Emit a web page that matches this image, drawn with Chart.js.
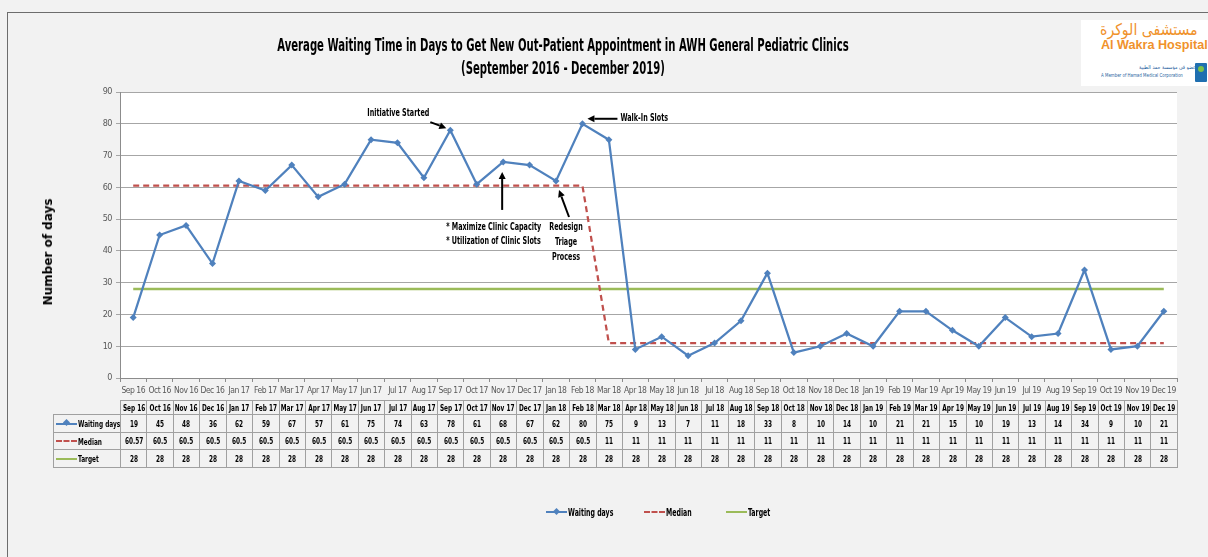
<!DOCTYPE html>
<html>
<head>
<meta charset="utf-8">
<script src="https://cdn.jsdelivr.net/npm/chart.js@4.4.0/dist/chart.umd.min.js"></script>
<style>
    html, body { margin: 0; padding: 0; }
    body {
        width: 1208px; height: 557px; overflow: hidden; position: relative;
        background: #f2f2f2;
        font-family: "Liberation Sans Narrow", "DejaVu Sans Condensed", "Liberation Sans", sans-serif;
    }
    #frame { position: absolute; left: 7px; top: 12px; width: 1300px; height: 700px; border: 1px solid #6d6d6d; }
    #chart { position: absolute; left: 0; top: 0; }
    .title {
        position: absolute; left: 0; width: 1126px; text-align: center; font-weight: bold; font-size: 17px;
        color: #000; white-space: nowrap; transform: scaleX(0.66); transform-origin: center;
    }
    #ytitle {
        position: absolute; left: 48px; top: 252px; transform: translate(-50%, -50%) rotate(-90deg);
        font-family: "DejaVu Sans", sans-serif; font-weight: bold; font-size: 12px; white-space: nowrap;
    }
    #logo { position: absolute; left: 1081px; top: 20px; width: 127px; height: 66px; background: #fff; }
    #logo .ar { position: absolute; left: 19px; top: 0px; font-family: "DejaVu Sans", sans-serif; font-size: 16px; color: #f0922b; white-space: nowrap; transform: scaleX(0.88); transform-origin: 0 0; }
    #logo .en { position: absolute; left: 20px; top: 17px; font-family: "Liberation Sans", sans-serif; font-weight: bold; font-size: 13px; color: #f0922b; white-space: nowrap; transform: scaleX(0.97); transform-origin: 0 0; }
    #logo .small { position: absolute; white-space: nowrap; color: #1f5fa0; font-size: 8px; transform-origin: 0 0; }
    #logo .icon { position: absolute; left: 114px; top: 43px; width: 12px; height: 19px; background: #1f6fb0; border-radius: 1px; }
    #logo .icon i { position: absolute; left: 3px; top: 3px; width: 6px; height: 6px; background: #7bc24a; border-radius: 50%; }
    #datatable {
        position: absolute; border-collapse: collapse; table-layout: fixed;
        font-size: 9.5px; font-weight: bold; color: #000;
    }
    #datatable td { border: 1px solid #a0a0a0; text-align: center; padding: 0; white-space: nowrap; overflow: hidden; }
    #datatable td.blank { border: none; border-bottom: 1px solid #a0a0a0; }
    #datatable td.lab { text-align: left; padding-left: 2px; }
    .c { display: block; width: 300%; margin-left: -100%; text-align: center; transform: scaleX(0.68); transform-origin: center; }
    .lt { display: inline-block; transform: scaleX(0.68); transform-origin: 0 50%; vertical-align: middle; }
    .sw { display: inline-block; width: 21px; height: 0; vertical-align: middle; margin-right: 1px; position: relative; }
    .sw.wait { border-top: 2px solid #4f81bd; }
    .sw.med { border-top: 2px dashed #c0504d; }
    .sw.tgt { border-top: 2px solid #9bbb59; }
    .sw.wait::after { content: ""; position: absolute; left: 8px; top: -4.5px; width: 5px; height: 5px; background: #4f81bd; transform: rotate(45deg); }
    #legend { position: absolute; top: 503px; left: 0; width: 1208px; height: 16px; font-size: 10.5px; font-weight: bold; }
    #legend span.item { position: absolute; top: 0; white-space: nowrap; line-height: 16px; }
    #legend .lt { transform: scaleX(0.66); }
</style>
</head>
<body>
<div id="frame"></div>
<canvas id="chart" width="1208" height="557"></canvas>
<div class="title" style="top:35px">Average Waiting Time in Days to Get New Out-Patient Appointment in AWH General Pediatric Clinics</div>
<div class="title" style="top:58px">(September 2016 - December 2019)</div>
<div id="ytitle">Number of days</div>
<div id="logo">
    <div class="ar">مستشفى الوكرة</div>
    <div class="en">Al Wakra Hospital</div>
    <div class="small" style="left:58px;top:44px;transform:scale(0.65)">عضو في مؤسسة حمد الطبية</div>
    <div class="small" style="left:20px;top:53px;transform:scale(0.55)">A Member of Hamad Medical Corporation</div>
    <div class="icon"><i></i></div>
</div>
<table id="datatable"></table>
<div id="legend">
    <span class="item" style="left:546px"><span class="sw wait"></span><span class="lt">Waiting days</span></span>
    <span class="item" style="left:644px"><span class="sw med"></span><span class="lt">Median</span></span>
    <span class="item" style="left:726px"><span class="sw tgt"></span><span class="lt">Target</span></span>
</div>

<script>
// Chart data
const months = [
    'Sep 16', 'Oct 16', 'Nov 16', 'Dec 16',
    'Jan 17', 'Feb 17', 'Mar 17', 'Apr 17', 'May 17', 'Jun 17', 'Jul 17', 'Aug 17', 'Sep 17', 'Oct 17', 'Nov 17', 'Dec 17',
    'Jan 18', 'Feb 18', 'Mar 18', 'Apr 18', 'May 18', 'Jun 18', 'Jul 18', 'Aug 18', 'Sep 18', 'Oct 18', 'Nov 18', 'Dec 18',
    'Jan 19', 'Feb 19', 'Mar 19', 'Apr 19', 'May 19', 'Jun 19', 'Jul 19', 'Aug 19', 'Sep 19', 'Oct 19', 'Nov 19', 'Dec 19'
];
const waitingDays = [
    19, 45, 48, 36,
    62, 59, 67, 57, 61, 75, 74, 63, 78, 61, 68, 67,
    62, 80, 75, 9, 13, 7, 11, 18, 33, 8, 10, 14,
    10, 21, 21, 15, 10, 19, 13, 14, 34, 9, 10, 21
];
const median = [
    60.57, 60.5, 60.5, 60.5,
    60.5, 60.5, 60.5, 60.5, 60.5, 60.5, 60.5, 60.5, 60.5, 60.5, 60.5, 60.5,
    60.5, 60.5, 11, 11, 11, 11, 11, 11, 11, 11, 11, 11,
    11, 11, 11, 11, 11, 11, 11, 11, 11, 11, 11, 11
];
const target = [
    28, 28, 28, 28,
    28, 28, 28, 28, 28, 28, 28, 28, 28, 28, 28, 28,
    28, 28, 28, 28, 28, 28, 28, 28, 28, 28, 28, 28,
    28, 28, 28, 28, 28, 28, 28, 28, 28, 28, 28, 28
];
const yMin = 0;
const yMax = 90;
const yStep = 10;

const FONT = '"Liberation Sans Narrow", "DejaVu Sans Condensed", "Liberation Sans", sans-serif';

// Text callouts, anchored to a month's waiting-days point (offsets in px)
const callouts = [
    { month: 'Sep 17', text: ['Initiative Started'], align: 'center', tx: -52, ty: -17, arrow: [-20, -8, -4, -2] },
    { month: 'Feb 18', text: ['Walk-In Slots'], align: 'left', tx: 38, ty: -6, arrow: [35, -5, 5, -5] },
    { month: 'Nov 17', text: ['* Maximize Clinic Capacity', '* Utilization of Clinic Slots'], align: 'left', tx: -57, ty: 65, lh: 14, arrow: [-1, 48, -1, 10] },
    { month: 'Jan 18', text: ['Redesign', 'Triage', 'Process'], align: 'center', tx: 10, ty: 46, lh: 15, arrow: [13, 36, 3, 9] }
];

const plotBackground = {
    id: 'plotBackground',
    beforeDraw(chart) {
        const { ctx, chartArea: a } = chart;
        ctx.letterSpacing = '-0.5px'; // narrower tick text, close to the original Calibri
        ctx.save();
        ctx.fillStyle = '#ffffff';
        ctx.fillRect(a.left, a.top, a.right - a.left, a.bottom - a.top);
        ctx.restore();
    }
};

function drawArrow(ctx, x1, y1, x2, y2) {
    const ang = Math.atan2(y2 - y1, x2 - x1);
    const len = 7, half = 3.5;
    const bx = x2 - len * Math.cos(ang), by = y2 - len * Math.sin(ang);
    ctx.beginPath();
    ctx.moveTo(x1, y1);
    ctx.lineTo(bx, by);
    ctx.stroke();
    ctx.beginPath();
    ctx.moveTo(x2, y2);
    ctx.lineTo(bx + half * Math.sin(ang), by - half * Math.cos(ang));
    ctx.lineTo(bx - half * Math.sin(ang), by + half * Math.cos(ang));
    ctx.closePath();
    ctx.fill();
}

const calloutPlugin = {
    id: 'callouts',
    afterDatasetsDraw(chart) {
        const { ctx, scales } = chart;
        ctx.save();
        ctx.letterSpacing = '0px';
        ctx.fillStyle = '#000';
        ctx.strokeStyle = '#000';
        ctx.lineWidth = 2;
        ctx.font = 'bold 10.5px ' + FONT;
        ctx.textBaseline = 'middle';
        callouts.forEach(c => {
            const i = months.indexOf(c.month);
            const px = scales.x.getPixelForValue(i);
            const py = scales.y.getPixelForValue(waitingDays[i]);
            ctx.textAlign = c.align;
            c.text.forEach((t, k) => {
                ctx.save();
                ctx.translate(px + c.tx, py + c.ty + k * (c.lh || 0));
                ctx.scale(0.68, 1);
                ctx.fillText(t, 0, 0);
                ctx.restore();
            });
            const a = c.arrow;
            drawArrow(ctx, px + a[0], py + a[1], px + a[2], py + a[3]);
        });
        ctx.restore();
    }
};

const ctx = document.getElementById('chart').getContext('2d');
const chart = new Chart(ctx, {
    type: 'line',
    data: {
        labels: months,
        datasets: [
            {
                label: 'Waiting days',
                data: waitingDays,
                borderColor: '#4f81bd',
                backgroundColor: '#4f81bd',
                borderWidth: 2.25,
                pointStyle: 'rectRot',
                pointRadius: 3.5,
                pointBorderWidth: 0,
                tension: 0
            },
            {
                label: 'Median',
                data: median,
                borderColor: '#c0504d',
                borderWidth: 2.25,
                borderDash: [6, 4],
                pointRadius: 0,
                tension: 0
            },
            {
                label: 'Target',
                data: target,
                borderColor: '#9bbb59',
                borderWidth: 2.5,
                pointRadius: 0,
                tension: 0
            }
        ]
    },
    options: {
        responsive: false,
        animation: false,
        layout: {
            autoPadding: false,
            padding: { left: 0, top: 92, right: 31, bottom: 157 }
        },
        plugins: {
            legend: { display: false },
            tooltip: { enabled: false }
        },
        scales: {
            x: {
                offset: true,
                grid: { display: true, drawOnChartArea: false, drawTicks: true, tickLength: 4, offset: true, color: '#8c8c8c' },
                border: { color: '#8c8c8c' },
                ticks: {
                    autoSkip: false, maxRotation: 0, minRotation: 0, padding: 4,
                    color: '#595959', font: { family: FONT, size: 8.5 }
                },
                afterFit: s => { s.height = 22; }
            },
            y: {
                min: yMin,
                max: yMax,
                grid: { color: '#a6a6a6', tickLength: 4 },
                border: { color: '#8c8c8c' },
                ticks: { stepSize: yStep, padding: 4, color: '#595959', font: { family: FONT, size: 9 } },
                afterFit: s => { s.width = 120; }
            }
        }
    },
    plugins: [plotBackground, calloutPlugin]
});

// Data table under the axis, lined up with the category columns
function buildTable() {
    const area = chart.chartArea;
    const colW = (area.right - area.left) / months.length;
    const tableLeft = 53;
    const table = document.getElementById('datatable');
    table.style.left = tableLeft + 'px';
    table.style.top = '400px';
    table.style.width = (area.right - tableLeft) + 'px';

    let html = '<colgroup><col style="width:' + (area.left - tableLeft) + 'px">';
    months.forEach(() => { html += '<col style="width:' + colW + 'px">'; });
    html += '</colgroup>';
    html += '<tr style="height:14px"><td class="blank"></td>' +
        months.map(m => '<td><span class="c">' + m + '</span></td>').join('') + '</tr>';
    const rows = [
        ['wait', 'Waiting days', waitingDays],
        ['med', 'Median', median],
        ['tgt', 'Target', target]
    ];
    rows.forEach(r => {
        html += '<tr style="height:17.5px"><td class="lab"><span class="sw ' + r[0] + '"></span><span class="lt">' + r[1] + '</span></td>' +
            r[2].map(v => '<td><span class="c">' + v + '</span></td>').join('') + '</tr>';
    });
    table.innerHTML = html;
}
buildTable();
</script>
</body>
</html>
